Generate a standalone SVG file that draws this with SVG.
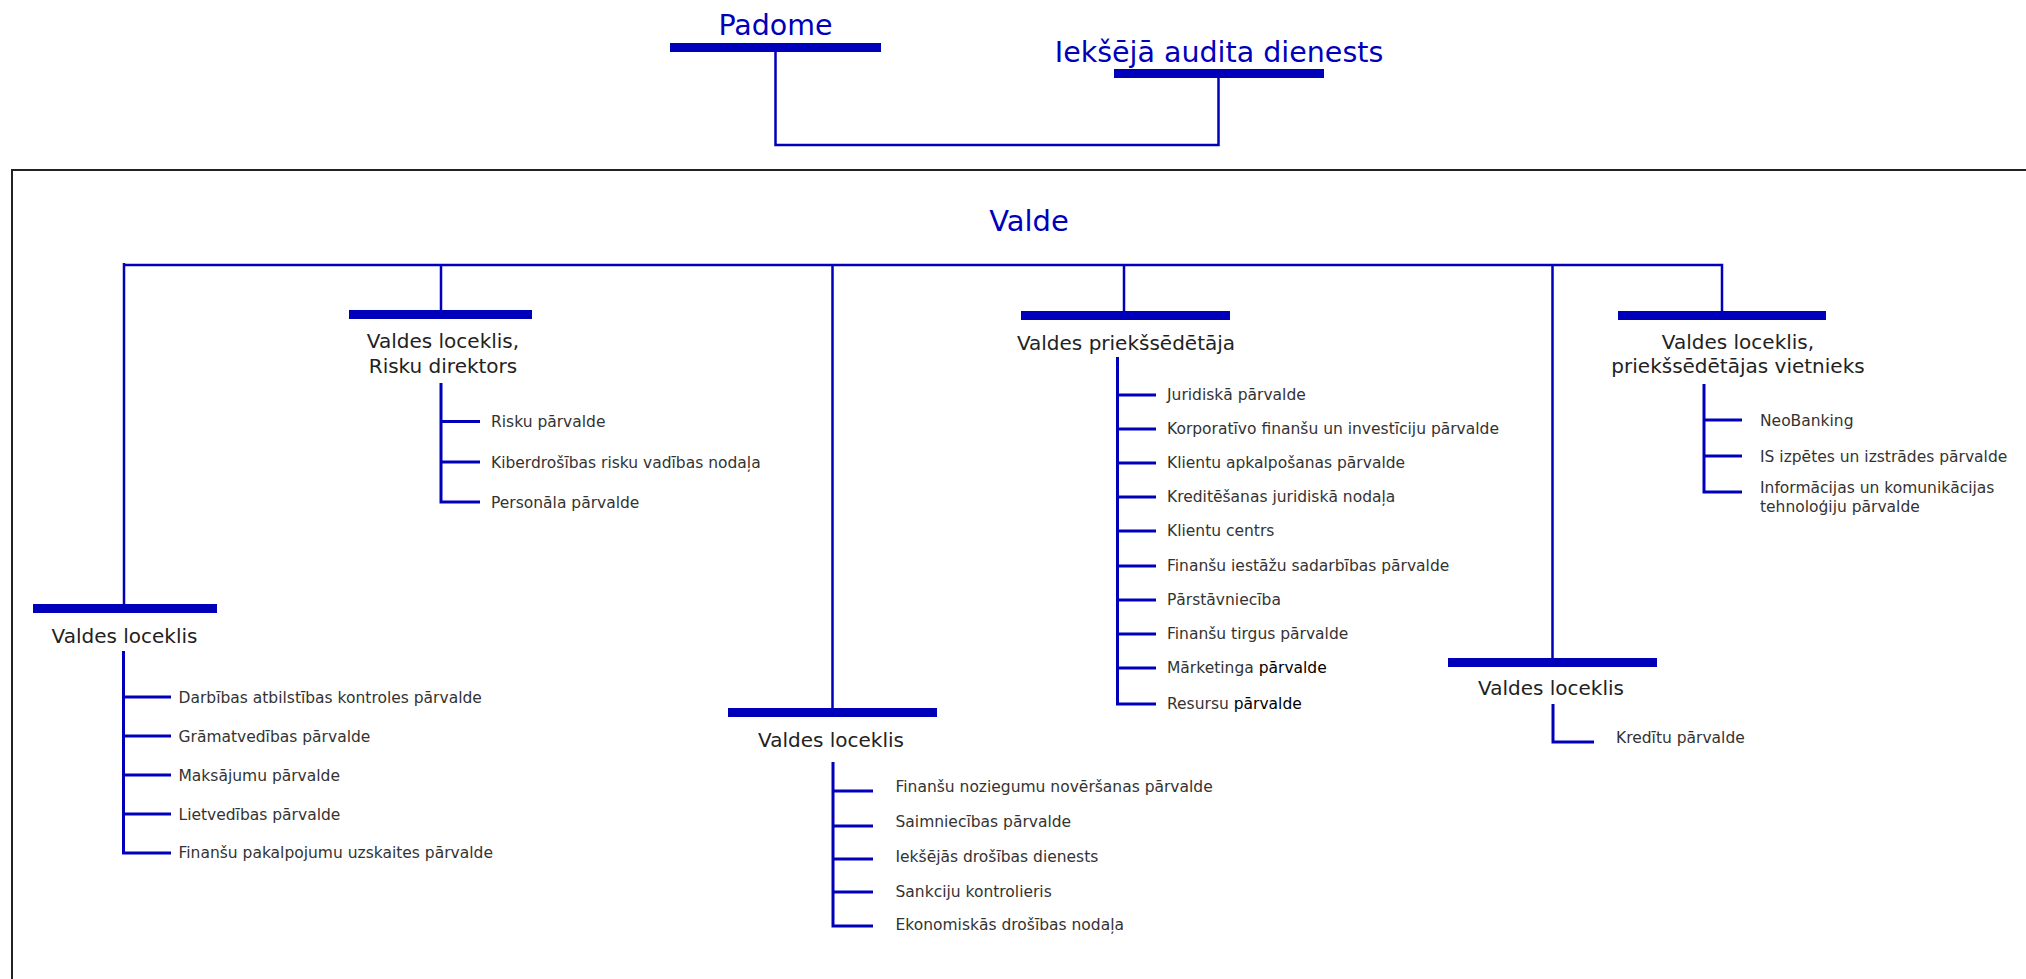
<svg xmlns="http://www.w3.org/2000/svg" width="2026" height="979" viewBox="0 0 2026 979">
<style>
.bar{fill:#0000bb}
.con{fill:none;stroke:#0000bb;stroke-width:2.5}
.sub{fill:none;stroke:#0000bb;stroke-width:3}
.head{font-family:"DejaVu Sans",Verdana,sans-serif;fill:#0000bb;text-anchor:middle}
.lbl{font-family:"DejaVu Sans",Verdana,sans-serif;font-size:20px;fill:#222;text-anchor:middle}
.it{font-family:"DejaVu Sans",Verdana,sans-serif;font-size:15.5px;fill:#333}
.blk{fill:#000}
</style>
<rect x="12" y="170" width="2100" height="900" fill="none" stroke="#222" stroke-width="2"/>
<g id="connectors">
<path class="con" d="M775.5 52 V145 H1218.5 V78"/>
<path class="con" d="M124 263 V604 M122.8 265 H1722 V311 M441 265 V310 M832.5 265 V708 M1124 265 V311 M1552.5 265 V658"/>
</g>
<g id="padome">
<rect class="bar" x="670" y="43" width="211" height="9"/>
<text class="head" x="775.5" y="35" font-size="28.5">Padome</text>
</g>
<g id="audits">
<rect class="bar" x="1114" y="69" width="210" height="9"/>
<text class="head" x="1219" y="62" font-size="28.5">Iekšējā audita dienests</text>
</g>
<g id="valde">
<text class="head" x="1029" y="231" font-size="29">Valde</text>
</g>
<g id="member-left">
<rect class="bar" x="33" y="604" width="184" height="9"/>
<text class="lbl" x="124.5" y="643">Valdes loceklis</text>
<path class="sub" d="M123.5 651 V853 H171 M123.5 697 H171 M123.5 736 H171 M123.5 775 H171 M123.5 814 H171"/>
<text class="it" x="178.5" y="702.5">Darbības atbilstības kontroles pārvalde</text>
<text class="it" x="178.5" y="741.5">Grāmatvedības pārvalde</text>
<text class="it" x="178.5" y="780.5">Maksājumu pārvalde</text>
<text class="it" x="178.5" y="819.5">Lietvedības pārvalde</text>
<text class="it" x="178.5" y="858">Finanšu pakalpojumu uzskaites pārvalde</text>
</g>
<g id="member-risk">
<rect class="bar" x="349" y="310" width="183" height="9"/>
<text class="lbl" x="443" y="348">Valdes loceklis,</text>
<text class="lbl" x="443" y="373">Risku direktors</text>
<path class="sub" d="M441 383 V502 H480 M441 421.5 H480 M441 462 H480"/>
<text class="it" x="491" y="426.5">Risku pārvalde</text>
<text class="it" x="491" y="467.5">Kiberdrošības risku vadības nodaļa</text>
<text class="it" x="491" y="507.5">Personāla pārvalde</text>
</g>
<g id="member-middle">
<rect class="bar" x="728" y="708" width="209" height="9"/>
<text class="lbl" x="831" y="747">Valdes loceklis</text>
<path class="sub" d="M833 762 V926 H873 M833 791 H873 M833 826 H873 M833 859 H873 M833 892 H873"/>
<text class="it" x="895.5" y="792">Finanšu noziegumu novēršanas pārvalde</text>
<text class="it" x="895.5" y="827">Saimniecības pārvalde</text>
<text class="it" x="895.5" y="862">Iekšējās drošības dienests</text>
<text class="it" x="895.5" y="897">Sankciju kontrolieris</text>
<text class="it" x="895.5" y="930">Ekonomiskās drošības nodaļa</text>
</g>
<g id="chair">
<rect class="bar" x="1021" y="311" width="209" height="9"/>
<text class="lbl" x="1126" y="350">Valdes priekšsēdētāja</text>
<path class="sub" d="M1117.5 357 V704 H1156 M1117.5 395 H1156 M1117.5 429 H1156 M1117.5 463 H1156 M1117.5 497 H1156 M1117.5 531 H1156 M1117.5 566 H1156 M1117.5 600 H1156 M1117.5 634 H1156 M1117.5 668 H1156"/>
<text class="it" x="1167" y="399.5">Juridiskā pārvalde</text>
<text class="it" x="1167" y="434">Korporatīvo finanšu un investīciju pārvalde</text>
<text class="it" x="1167" y="468">Klientu apkalpošanas pārvalde</text>
<text class="it" x="1167" y="502">Kreditēšanas juridiskā nodaļa</text>
<text class="it" x="1167" y="536">Klientu centrs</text>
<text class="it" x="1167" y="570.5">Finanšu iestāžu sadarbības pārvalde</text>
<text class="it" x="1167" y="605">Pārstāvniecība</text>
<text class="it" x="1167" y="638.5">Finanšu tirgus pārvalde</text>
<text class="it" x="1167" y="673">Mārketinga <tspan class="blk">pārvalde</tspan></text>
<text class="it" x="1167" y="709">Resursu <tspan class="blk">pārvalde</tspan></text>
</g>
<g id="member-right">
<rect class="bar" x="1448" y="658" width="209" height="9"/>
<text class="lbl" x="1551" y="695">Valdes loceklis</text>
<path class="sub" d="M1553 704 V742 H1594"/>
<text class="it" x="1616" y="743">Kredītu pārvalde</text>
</g>
<g id="deputy">
<rect class="bar" x="1618" y="311" width="208" height="9"/>
<text class="lbl" x="1738" y="349">Valdes loceklis,</text>
<text class="lbl" x="1738" y="373">priekšsēdētājas vietnieks</text>
<path class="sub" d="M1704 384 V492 H1742 M1704 420 H1742 M1704 456 H1742"/>
<text class="it" x="1760" y="426">NeoBanking</text>
<text class="it" x="1760" y="462">IS izpētes un izstrādes pārvalde</text>
<text class="it" x="1760" y="493">Informācijas un komunikācijas</text>
<text class="it" x="1760" y="512">tehnoloģiju pārvalde</text>
</g>
</svg>
